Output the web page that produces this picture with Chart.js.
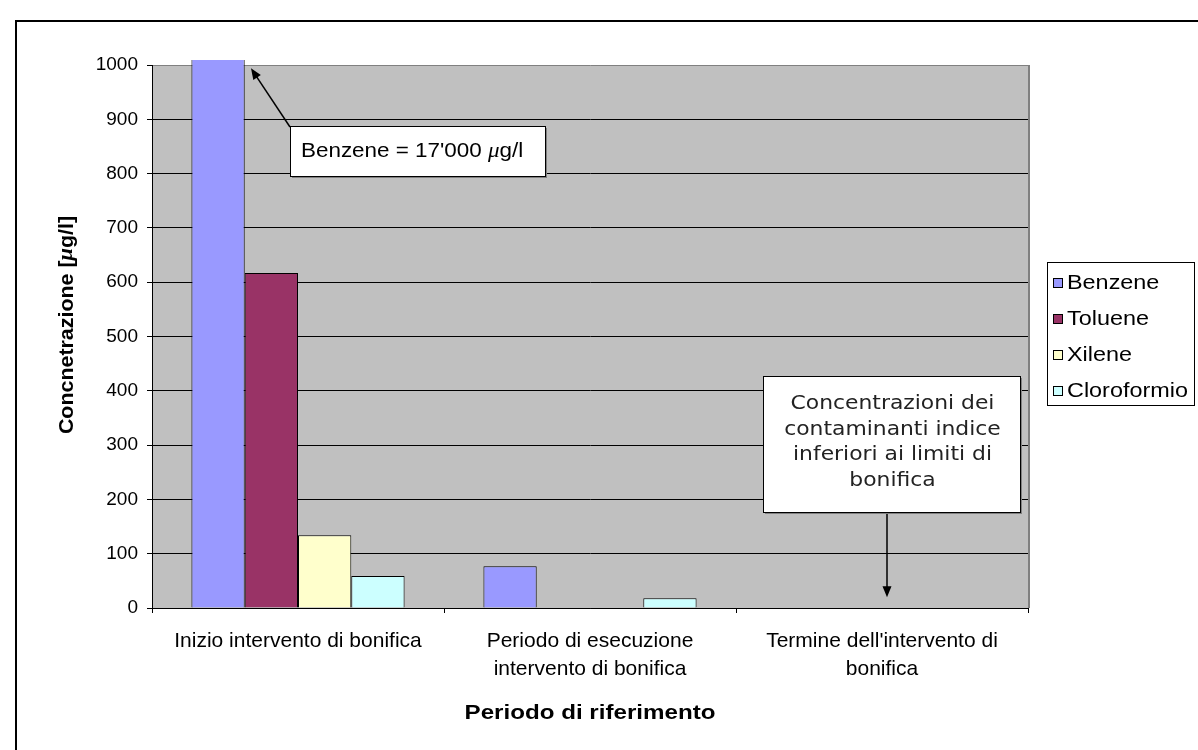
<!DOCTYPE html>
<html>
<head>
<meta charset="utf-8">
<script src="https://cdn.jsdelivr.net/npm/chart.js@4.4.0/dist/chart.umd.min.js"></script>
<style>
  html, body { margin: 0; padding: 0; background: #fff; }
  #wrap { width: 1198px; height: 750px; position: relative; }
</style>
</head>
<body>
<div id="wrap"><canvas id="chart" width="1198" height="750"></canvas></div>
<script>
// --- DATI ---
const categories = [
  'Inizio intervento di bonifica',
  ['Periodo di esecuzione', 'intervento di bonifica'],
  ["Termine dell'intervento di", 'bonifica']
];
const seriesNames = ['Benzene', 'Toluene', 'Xilene', 'Cloroformio'];
const benzene = [17000, 77, 0];
const toluene = [617, 0, 0];
const xilene = [134, 0, 0];
const cloroformio = [59, 18, 0];
const seriesColors = ['#9999FF', '#993366', '#FFFFCC', '#CCFFFF'];
const yMin = 0, yMax = 1000, yStep = 100;

const FONT = '"Liberation Sans", Arial, sans-serif';
const SX = 1.15; // il testo dell'originale e' un po' allargato

// freccia semplice
function arrow(ctx, x1, y1, x2, y2) {
  const ang = Math.atan2(y2 - y1, x2 - x1);
  const len = 11, half = 4.5;
  ctx.save();
  ctx.strokeStyle = '#000';
  ctx.fillStyle = '#000';
  ctx.lineWidth = 1.5;
  ctx.beginPath();
  ctx.moveTo(x1, y1);
  ctx.lineTo(x2 - Math.cos(ang) * len * 0.8, y2 - Math.sin(ang) * len * 0.8);
  ctx.stroke();
  ctx.beginPath();
  ctx.moveTo(x2, y2);
  ctx.lineTo(x2 - Math.cos(ang) * len + Math.sin(ang) * half, y2 - Math.sin(ang) * len - Math.cos(ang) * half);
  ctx.lineTo(x2 - Math.cos(ang) * len - Math.sin(ang) * half, y2 - Math.sin(ang) * len + Math.cos(ang) * half);
  ctx.closePath();
  ctx.fill();
  ctx.restore();
}

function box(ctx, x, y, w, h) {
  ctx.save();
  ctx.fillStyle = '#808080';
  ctx.fillRect(x + 2, y + 2, w, h);
  ctx.fillStyle = '#fff';
  ctx.fillRect(x, y, w, h);
  ctx.strokeStyle = '#000';
  ctx.lineWidth = 1;
  ctx.strokeRect(x + 0.5, y + 0.5, w, h);
  ctx.restore();
}

// testo a pezzi (per la mu in corsivo)
function drawParts(ctx, parts, x, y) {
  let cx = x;
  parts.forEach(p => {
    ctx.font = p.font;
    ctx.fillText(p.text, cx, y);
    cx += ctx.measureText(p.text).width;
  });
  return cx;
}
function partsWidth(ctx, parts) {
  let w = 0;
  parts.forEach(p => { ctx.font = p.font; w += ctx.measureText(p.text).width; });
  return w;
}

// testo allargato orizzontalmente
function wideText(ctx, text, x, y, align) {
  ctx.save();
  ctx.translate(x, y);
  ctx.scale(SX, 1);
  ctx.textAlign = align || 'left';
  ctx.fillText(text, 0, 0);
  ctx.restore();
}

const excelPlugin = {
  id: 'excelPlugin',
  beforeDraw(chart) {
    const { ctx, chartArea: a } = chart;
    ctx.save();
    ctx.fillStyle = '#fff';
    ctx.fillRect(0, 0, chart.width, chart.height);
    ctx.fillStyle = '#C0C0C0';
    ctx.fillRect(a.left, a.top, a.right - a.left, a.bottom - a.top);
    ctx.restore();
  },
  afterDraw(chart) {
    const { ctx, chartArea: a, scales } = chart;
    const xs = scales.x, ys = scales.y;

    // bordo destro dell'area del grafico
    ctx.save();
    ctx.strokeStyle = '#808080';
    ctx.lineWidth = 2;
    ctx.beginPath();
    ctx.moveTo(a.right + 1, a.top);
    ctx.lineTo(a.right + 1, a.bottom);
    ctx.stroke();
    ctx.restore();

    // annotazione Benzene
    const bx = 290, by = 126, bw = 255, bh = 50;
    arrow(ctx, bx, by + 1, a.left + 99, ys.getPixelForValue(994));
    box(ctx, bx, by, bw, bh);
    ctx.save();
    ctx.fillStyle = '#000';
    ctx.textBaseline = 'middle';
    ctx.translate(bx + 11, by + bh / 2 + 1);
    ctx.scale(SX, 1);
    drawParts(ctx, [
      { text: "Benzene = 17'000 ", font: '19.5px ' + FONT },
      { text: 'μ', font: 'italic 20px "Liberation Serif", serif' },
      { text: 'g/l', font: '19.5px ' + FONT }
    ], 0, 0);
    ctx.restore();

    // annotazione periodo finale
    const cx0 = 763, cy0 = 376, cw = 257, ch = 136;
    const tipX = xs.getPixelForValue(2) + 5;
    arrow(ctx, tipX, cy0 + ch, tipX, ys.getPixelForValue(20));
    box(ctx, cx0, cy0, cw, ch);
    ctx.save();
    ctx.fillStyle = '#222';
    ctx.font = '19px "DejaVu Sans", Verdana, sans-serif';
    ctx.textBaseline = 'alphabetic';
    ['Concentrazioni dei', 'contaminanti indice', 'inferiori ai limiti di', 'bonifica']
      .forEach((t, i) => wideText(ctx, t, cx0 + cw / 2 + 1, cy0 + 33 + i * 25.5, 'center'));
    ctx.restore();

    // legenda
    const lx = 1047, ly = 262, lw = 147, lh = 143;
    ctx.save();
    ctx.fillStyle = '#fff';
    ctx.fillRect(lx, ly, lw, lh);
    ctx.strokeStyle = '#000';
    ctx.lineWidth = 1;
    ctx.strokeRect(lx + 0.5, ly + 0.5, lw, lh);
    ctx.font = '19.5px ' + FONT;
    ctx.textBaseline = 'middle';
    chart.data.datasets.forEach((ds, i) => {
      const ry = ly + 21 + i * 36;
      ctx.fillStyle = ds.backgroundColor;
      ctx.fillRect(lx + 6, ry - 5, 10, 10);
      ctx.strokeStyle = '#000';
      ctx.strokeRect(lx + 6.5, ry - 4.5, 9, 9);
      ctx.fillStyle = '#000';
      ctx.save();
      ctx.translate(lx + 20, ry + 1);
      ctx.scale(1.2, 1);
      ctx.fillText(ds.label, 0, 0);
      ctx.restore();
    });
    ctx.restore();

    // titoli degli assi
    ctx.save();
    ctx.fillStyle = '#000';
    ctx.textBaseline = 'middle';
    ctx.font = 'bold 21px ' + FONT;
    wideText(ctx, 'Periodo di riferimento', (a.left + a.right) / 2, 713, 'center');
    const yParts = [
      { text: 'Concnetrazione [', font: 'bold 20px ' + FONT },
      { text: 'μ', font: 'italic bold 21px "Liberation Serif", serif' },
      { text: 'g/l]', font: 'bold 20px ' + FONT }
    ];
    ctx.translate(67, 325);
    ctx.rotate(-Math.PI / 2);
    ctx.scale(1.07, 1);
    ctx.textAlign = 'left';
    drawParts(ctx, yParts, -partsWidth(ctx, yParts) / 2, 0);
    ctx.restore();

    // cornice esterna
    ctx.save();
    ctx.strokeStyle = '#000';
    ctx.lineWidth = 2;
    ctx.beginPath();
    ctx.moveTo(16, chart.height + 5);
    ctx.lineTo(16, 21);
    ctx.lineTo(chart.width + 5, 21);
    ctx.stroke();
    ctx.restore();
  }
};

const seriesData = [benzene, toluene, xilene, cloroformio];

new Chart(document.getElementById('chart'), {
  type: 'bar',
  data: {
    labels: categories,
    datasets: seriesNames.map((name, i) => ({
      label: name,
      data: seriesData[i],
      backgroundColor: seriesColors[i],
      borderColor: '#000',
      borderWidth: 1,
      categoryPercentage: 0.73,
      barPercentage: 1,
      clip: i === 0 ? { left: 0, top: 5, right: 0, bottom: 0 } : undefined
    }))
  },
  options: {
    responsive: false,
    animation: false,
    devicePixelRatio: 1,
    layout: { padding: { left: 0, top: 65, right: 170, bottom: 0 } },
    plugins: {
      legend: { display: false },
      tooltip: { enabled: false }
    },
    scales: {
      x: {
        afterFit: s => { s.height = 142; },
        grid: {
          display: true,
          drawOnChartArea: false,
          tickLength: 5,
          color: '#000',
          offset: true
        },
        border: { color: '#000', width: 1 },
        ticks: {
          color: '#000',
          font: { family: FONT, size: 21, lineHeight: 1.33 },
          padding: 14,
          maxRotation: 0,
          autoSkip: false
        }
      },
      y: {
        min: yMin,
        max: yMax,
        afterFit: s => { s.width = 152; },
        grid: {
          color: c => (c.tick && c.tick.value === yMax ? '#808080' : '#000'),
          tickColor: '#000',
          tickLength: 5,
          lineWidth: 1
        },
        border: { color: '#000', width: 1 },
        ticks: {
          stepSize: yStep,
          color: '#000',
          font: { family: FONT, size: 19 },
          padding: 9,
          callback: v => String(v)
        }
      }
    }
  },
  plugins: [excelPlugin]
});
</script>
</body>
</html>
